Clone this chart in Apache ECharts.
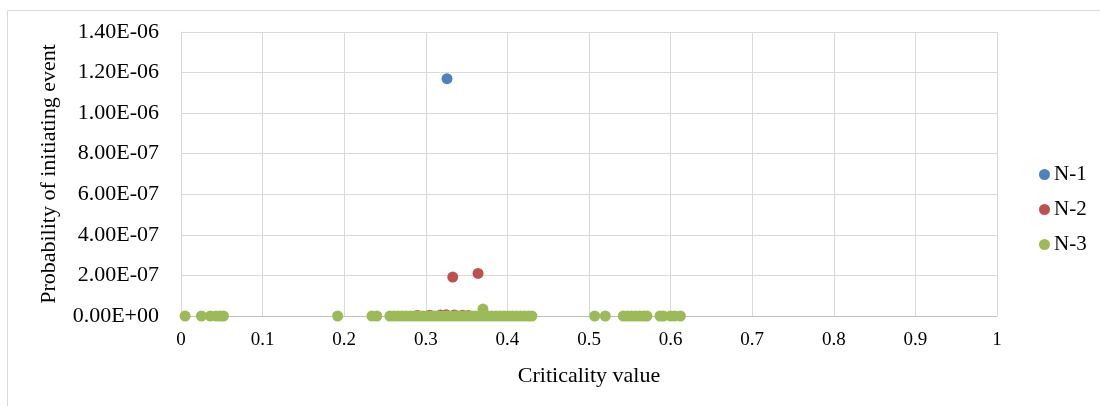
<!DOCTYPE html>
<html>
<head>
<meta charset="utf-8">
<script src="https://cdn.jsdelivr.net/npm/echarts@6/dist/echarts.min.js"></script>
<style>
  html, body { margin: 0; padding: 0; background: #fff; }
  #chart { width: 1100px; height: 406px; }
</style>
</head>
<body>
<div id="chart"></div>
<script>
// criticality value / probability pairs per contingency level
const n1Points = [
  [0.326, 1.17e-6],
];
const n2Points = [
  [0.333, 1.92e-7], [0.364, 2.10e-7],
  [0.290, 3e-9], [0.305, 4e-9], [0.318, 5e-9], [0.325, 6e-9],
  [0.335, 5e-9], [0.345, 4e-9], [0.352, 3e-9],
];
const n3Points = [
  [0.005, 0], [0.025, 0], [0.036, 0], [0.043, 0], [0.048, 0], [0.052, 0],
  [0.192, 0], [0.234, 0], [0.240, 0],
  [0.256, 0], [0.261, 0], [0.266, 0], [0.271, 0], [0.276, 0], [0.281, 0],
  [0.286, 0], [0.291, 0], [0.296, 0], [0.301, 0], [0.306, 0], [0.311, 0],
  [0.316, 0], [0.321, 0], [0.326, 0], [0.331, 0], [0.336, 0], [0.341, 0],
  [0.346, 0], [0.351, 0], [0.356, 0], [0.361, 0], [0.366, 0], [0.371, 0],
  [0.376, 0], [0.381, 0], [0.386, 0], [0.391, 0], [0.396, 0], [0.401, 0],
  [0.406, 0], [0.411, 0], [0.416, 0], [0.421, 0], [0.426, 0], [0.430, 0],
  [0.370, 3.4e-8],
  [0.507, 0], [0.520, 0],
  [0.542, 0], [0.547, 0], [0.552, 0], [0.557, 0], [0.562, 0], [0.567, 0], [0.571, 0],
  [0.587, 0], [0.591, 0], [0.600, 0], [0.605, 0], [0.612, 0],
];
const seriesNames = ['N-1', 'N-2', 'N-3'];
const seriesColors = ['#4F81BD', '#C0504D', '#9BBB59'];
const xTicks = [0, 0.1, 0.2, 0.3, 0.4, 0.5, 0.6, 0.7, 0.8, 0.9, 1];
const yTicks = ['0.00E+00', '2.00E-07', '4.00E-07', '6.00E-07', '8.00E-07', '1.00E-06', '1.20E-06', '1.40E-06'];

const font = '"Liberation Serif", "Times New Roman", serif';
const chart = echarts.init(document.getElementById('chart'), null, { renderer: 'canvas' });

function formatY(v) {
  const idx = Math.round(v / 2e-7);
  return yTicks[idx] ?? '';
}

chart.setOption({
  animation: false,
  backgroundColor: '#fff',
  textStyle: { fontFamily: font },
  graphic: [{
    type: 'rect',
    shape: { x: 7.5, y: 10.5, width: 1100, height: 420 },
    style: { fill: 'none', stroke: '#d9d9d9', lineWidth: 1 },
    silent: true,
  }],
  grid: { left: 181, right: 103, top: 32, bottom: 90 },
  legend: {
    orient: 'vertical',
    left: 1034,
    top: 159,
    itemGap: 14,
    itemWidth: 11,
    itemHeight: 11,
    icon: 'circle',
    textStyle: { fontFamily: font, fontSize: 21, color: '#000', padding: [0, 0, 0, -1] },
    data: seriesNames,
  },
  xAxis: {
    type: 'value',
    min: 0, max: 1, interval: 0.1,
    name: 'Criticality value',
    nameLocation: 'middle',
    nameGap: 49,
    nameTextStyle: { fontFamily: font, fontSize: 22, color: '#000' },
    axisLine: { lineStyle: { color: '#bfbfbf' } },
    axisTick: { show: false },
    axisLabel: {
      fontFamily: font, fontSize: 19, color: '#000', margin: 15,
      formatter: (v) => {
        const t = xTicks.find((x) => Math.abs(x - v) < 1e-9);
        return t === undefined ? '' : String(t);
      },
    },
    splitLine: { show: true, lineStyle: { color: '#d9d9d9' } },
  },
  yAxis: {
    type: 'value',
    min: 0, max: 1.4e-6, interval: 2e-7,
    name: 'Probability of initiating event',
    nameLocation: 'middle',
    nameGap: 121,
    nameTextStyle: { fontFamily: font, fontSize: 22, color: '#000' },
    axisLine: { show: true, lineStyle: { color: '#d9d9d9' } },
    axisTick: { show: false },
    axisLabel: { fontFamily: font, fontSize: 22, color: '#000', margin: 22, formatter: formatY },
    splitLine: { show: true, lineStyle: { color: '#d9d9d9' } },
  },
  series: [n1Points, n2Points, n3Points].map((data, i) => ({
    name: seriesNames[i],
    type: 'scatter',
    symbolSize: 11,
    itemStyle: { color: seriesColors[i], opacity: 1 },
    data,
  })),
});
</script>
</body>
</html>
